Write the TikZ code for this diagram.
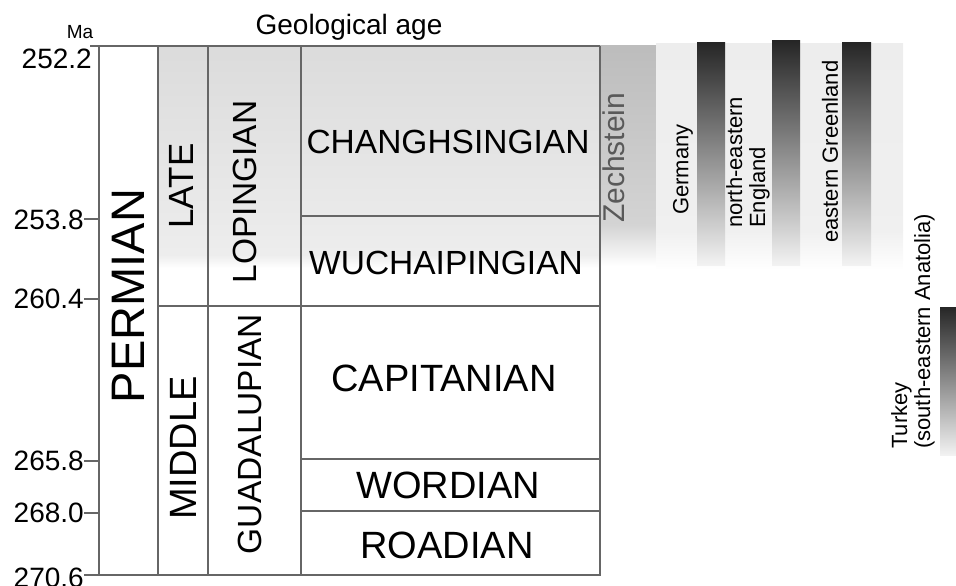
\documentclass[tikz,border=0pt]{standalone}
\usepackage{fontspec}
\setmainfont{Liberation Sans}
\tikzset{
  chartline/.style={draw=black!60, line width=1.2pt},
  unitname/.style={inner sep=0pt, font=\fontsize{33.5}{36}\selectfont},
  bigname/.style={inner sep=0pt, font=\fontsize{38}{40}\selectfont},
  agelabel/.style={inner sep=0pt, anchor=east, font=\fontsize{28}{30}\selectfont},
  region/.style={inner sep=0pt, rotate=90, anchor=west, align=left, font=\fontsize{22}{23}\selectfont},
  darkbar/.style={top color=black!85, bottom color=black!5},
}
\begin{document}
\begin{tikzpicture}[x=1pt, y=-1pt]
\useasboundingbox (0,0) rectangle (956,586);

% grey background of the upper interval
\shade[top color=black!14, bottom color=black!7] (158,46) rectangle (600,255);
\shade[top color=black!7, bottom color=white] (158,255) rectangle (600,268);
\shade[top color=black!26, bottom color=black!17] (600,46) rectangle (656,225);
\shade[top color=black!17, bottom color=white] (600,225) rectangle (656,266);
\shade[top color=black!7, bottom color=black!6] (656,44) rectangle (903,230);
\shade[top color=black!6, bottom color=white] (656,230) rectangle (903,270);

% ranges of the sections
\shade[darkbar] (697,43) rectangle (725,265);
\shade[darkbar] (772,41) rectangle (800,265);
\shade[darkbar] (842,43) rectangle (871,265);
\shade[darkbar] (940,307) rectangle (958,455);

% table
\draw[chartline] (90,46) -- (600,46);
\draw[chartline] (99,46) -- (99,575) -- (600,575) -- (600,46);
\foreach \x in {158,208,301}
  \draw[chartline] (\x,46) -- (\x,575);
\draw[chartline] (158,306) -- (600,306);
\foreach \y in {216,459,511}
  \draw[chartline] (301,\y) -- (600,\y);
\foreach \y in {219,299,461,513,575}
  \draw[chartline] (84,\y) -- (99,\y);

\node (ma) at (80,32) [inner sep=0pt, font=\fontsize{19}{20}\selectfont] {Ma};
\node (title) at (349,35) [inner sep=0pt, anchor=base, font=\fontsize{28}{30}\selectfont] {Geological age};
\node (a1) at (92,59) [agelabel] {252.2};
\foreach \y/\t/\n in {220/253.8/2, 299/260.4/3, 461/265.8/4, 513/268.0/5, 578/270.6/6}
  \node (a\n) at (84,\y) [agelabel] {\t};

\node (permian) at (128,296) [inner sep=0pt, rotate=90, font=\fontsize{47}{50}\selectfont] {PERMIAN};
\node (late) at (181,186) [inner sep=0pt, rotate=90, font=\fontsize{35}{38}\selectfont] {LATE};
\node (middle) at (183,448) [inner sep=0pt, rotate=90, font=\fontsize{38}{40}\selectfont] {MIDDLE};
\node (lopingian) at (245,192) [unitname, rotate=90] {LOPINGIAN};
\node (guadalupian) at (250,434) [unitname, rotate=90] {GUADALUPIAN};

\node (changhsingian) at (448,142) [unitname] {CHANGHSINGIAN};
\node (wuchiapingian) at (446,263) [unitname] {WUCHAIPINGIAN};
\node (capitanian) at (444,378) [bigname] {CAPITANIAN};
\node (wordian) at (448,485) [bigname] {WORDIAN};
\node (roadian) at (447,545) [bigname] {ROADIAN};

\node (zechstein) at (614,223) [region, text=black!65, font=\fontsize{30}{32}\selectfont] {Zechstein};
\node (germany) at (683,215) [region] {Germany};
\node (england) at (748,228) [region] {north-eastern\\England};
\node (greenland) at (830,243) [region] {eastern Greenland};
\node (turkey) at (913,449) [region] {Turkey\\(south-eastern Anatolia)};

\end{tikzpicture}
\end{document}
